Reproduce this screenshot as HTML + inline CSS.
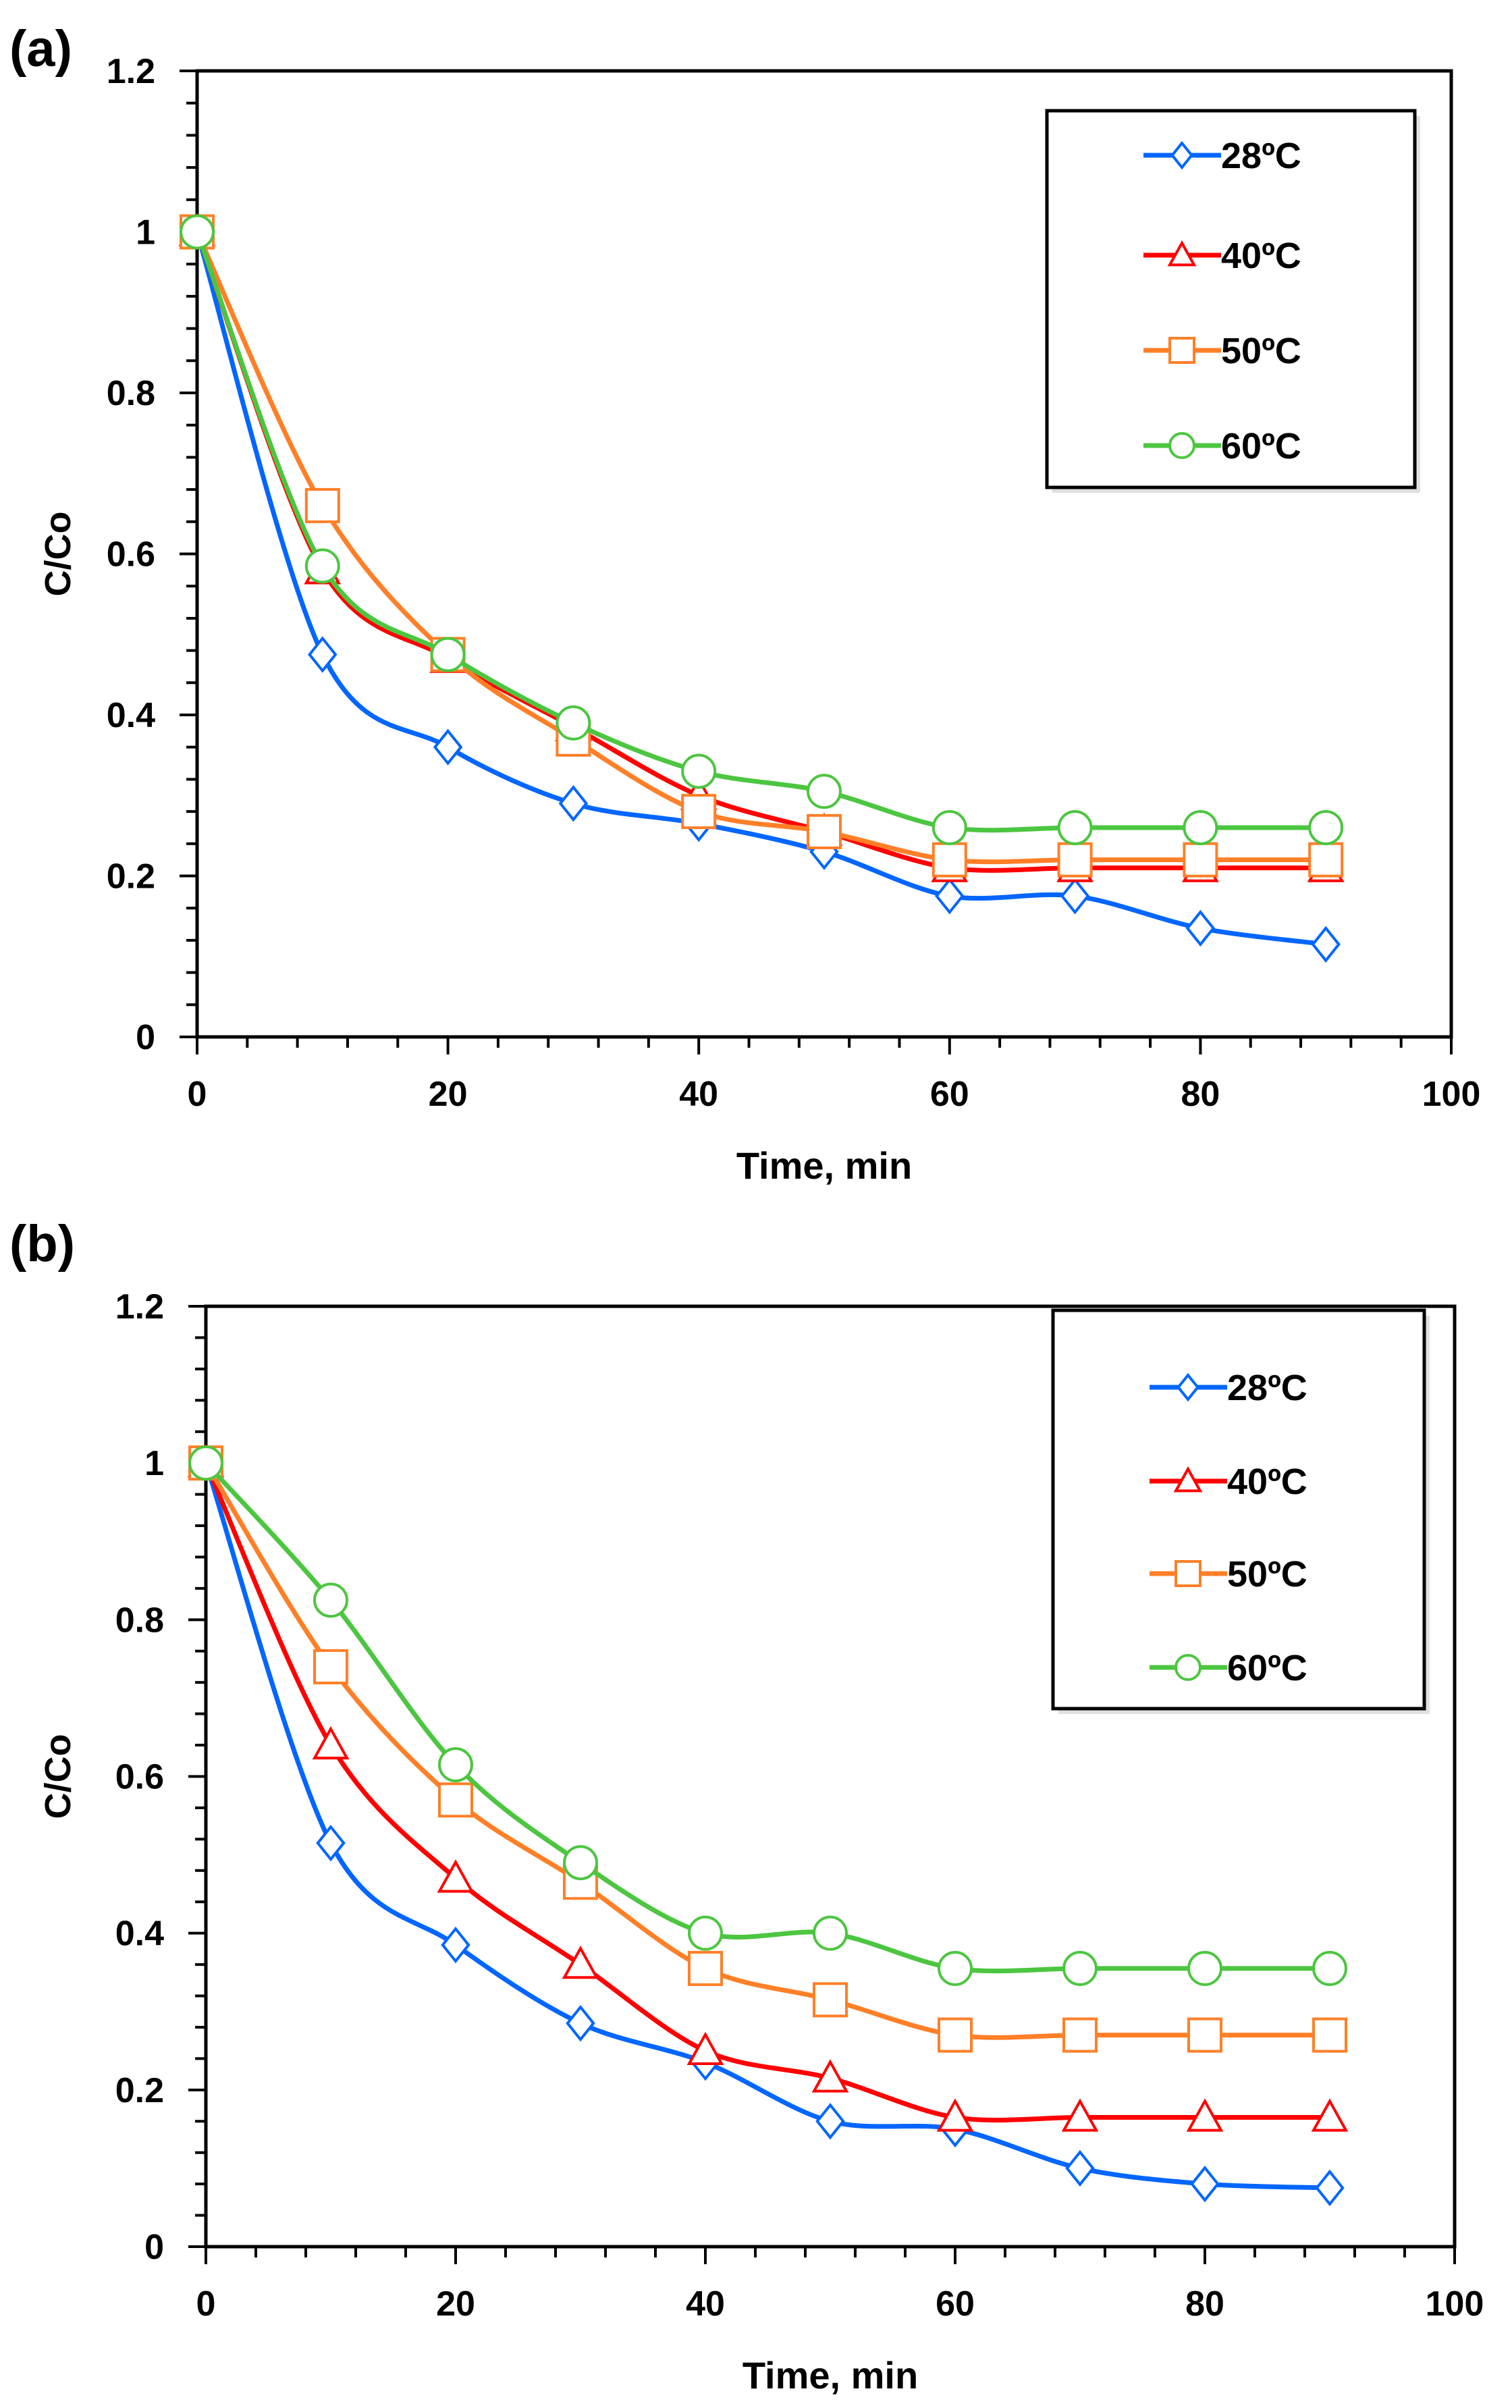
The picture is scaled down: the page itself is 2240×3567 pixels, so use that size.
<!DOCTYPE html>
<html><head><meta charset="utf-8"><style>
html,body{margin:0;padding:0;background:#fff}
svg{display:block}
text{font-family:"Liberation Sans Narrow","Liberation Sans",sans-serif;font-weight:bold;fill:#000}
</style></head><body>
<svg id="fig" width="2240" height="3567" viewBox="0 0 2240 3567" xmlns="http://www.w3.org/2000/svg"></svg>
<script>
const times = [0,10,20,30,40,50,60,70,80,90];
const seriesNames = ["28ºC","40ºC","50ºC","60ºC"];
const seriesColors = ["#0066ff","#ff0000","#ff7f27","#4cc640"];
const seriesMarkers = ["diamond","triangle","square","circle"];
const a28 = [1,0.475,0.36,0.29,0.265,0.23,0.175,0.175,0.135,0.115];
const a40 = [1,0.58,0.47,0.385,0.30,0.255,0.21,0.21,0.21,0.21];
const a50 = [1,0.66,0.475,0.37,0.28,0.255,0.22,0.22,0.22,0.22];
const a60 = [1,0.585,0.475,0.39,0.33,0.305,0.26,0.26,0.26,0.26];
const b28 = [1,0.515,0.385,0.285,0.235,0.16,0.15,0.10,0.08,0.075];
const b40 = [1,0.64,0.47,0.36,0.25,0.215,0.165,0.165,0.165,0.165];
const b50 = [1,0.74,0.57,0.465,0.355,0.315,0.27,0.27,0.27,0.27];
const b60 = [1,0.825,0.615,0.49,0.40,0.40,0.355,0.355,0.355,0.355];
const xTicks = [0,20,40,60,80,100];
const yTicks = [0,0.2,0.4,0.6,0.8,1,1.2];
const yTickLabels = ["0","0.2","0.4","0.6","0.8","1","1.2"];

const NS="http://www.w3.org/2000/svg";
const svg=document.getElementById('fig');
function mk(tag,attrs,parent){const e=document.createElementNS(NS,tag);for(const k in attrs)e.setAttribute(k,attrs[k]);(parent||svg).appendChild(e);return e;}

function marker(g,type,cx,cy,color,s){
  let e;
  if(type==="diamond") e=mk('polygon',{points:`${cx},${cy-s} ${cx+s*0.8},${cy} ${cx},${cy+s} ${cx-s*0.8},${cy}`},g);
  else if(type==="triangle") e=mk('polygon',{points:`${cx},${cy-s} ${cx+s},${cy+s*0.8} ${cx-s},${cy+s*0.8}`},g);
  else if(type==="square") e=mk('rect',{x:cx-s,y:cy-s,width:2*s,height:2*s},g);
  else e=mk('ellipse',{cx:cx,cy:cy,rx:s,ry:s},g);
  e.setAttribute('fill','#fff');e.setAttribute('stroke',color);e.setAttribute('stroke-width',4);
  return e;
}
function smoothPath(p){
  let d=`M${p[0][0]},${p[0][1]}`;
  for(let i=0;i<p.length-1;i++){
    const p0=p[Math.max(0,i-1)],p1=p[i],p2=p[i+1],p3=p[Math.min(p.length-1,i+2)];
    const t=0.16;
    const c1=[p1[0]+(p2[0]-p0[0])*t,p1[1]+(p2[1]-p0[1])*t];
    const c2=[p2[0]-(p3[0]-p1[0])*t,p2[1]-(p3[1]-p1[1])*t];
    d+=` C${c1[0]},${c1[1]} ${c2[0]},${c2[1]} ${p2[0]},${p2[1]}`;
  }
  return d;
}

function panel(cfg){
  const g=mk('g',{});
  
  
  const X=v=>cfg.x0+(cfg.x1-cfg.x0)*v/100;
  const Y=v=>cfg.y0+(cfg.y1-cfg.y0)*v/1.2;
  const frame=mk('rect',{x:cfg.x0,y:cfg.y1,width:cfg.x1-cfg.x0,height:cfg.y0-cfg.y1,fill:'none',stroke:'#000','stroke-width':5},g);
  
  
  for(let v=0;v<=100;v+=4){const mj=v%20===0;mk('line',{x1:X(v),x2:X(v),y1:cfg.y0,y2:cfg.y0+(mj?26:16),stroke:'#000','stroke-width':4},g);}
  for(let i=0;i<=30;i++){const v=i*0.04;const mj=i%5===0;mk('line',{x1:cfg.x0-(mj?26:16),x2:cfg.x0,y1:Y(v),y2:Y(v),stroke:'#000','stroke-width':4},g);}
  xTicks.forEach(v=>{const t=mk('text',{x:X(v),y:cfg.y0+102,'text-anchor':'middle','font-size':52},g);t.textContent=v;
    
    });
  yTicks.forEach((v,i)=>{const t=mk('text',{x:cfg.x0-62,y:Y(v)+18,'text-anchor':'end','font-size':52},g);t.textContent=yTickLabels[i];
    
    });
  const xt=mk('text',{x:(cfg.x0+cfg.x1)/2,y:cfg.y0+210,'text-anchor':'middle','font-size':56},g);xt.textContent="Time, min";
  
  
  const ycy=(cfg.y0+cfg.y1)/2;
  const yt=mk('text',{x:104,y:ycy,'text-anchor':'middle','font-size':54,transform:`rotate(-90 104 ${ycy})`},g);yt.textContent="C/Co";
  
  
  const pl=mk('text',{x:14,y:cfg.labelY,'font-size':76},g);pl.textContent=cfg.label;
  
  
  cfg.data.forEach((arr,si)=>{
    const sg=mk('g',{},g);
    
    
    const pts=arr.map((v,i)=>[X(times[i]),Y(v)]);
    mk('path',{d:smoothPath(pts),fill:'none',stroke:seriesColors[si],'stroke-width':7,'stroke-linejoin':'round'},sg);
    arr.forEach((v,i)=>{const m=marker(sg,seriesMarkers[si],X(times[i]),Y(v),seriesColors[si],24);
      
      });
  });
  const lg=mk('g',{},g);
  
  
  mk('rect',{x:cfg.lx+8,y:cfg.ly+8,width:cfg.lw,height:cfg.lh,fill:'#ccc',opacity:0.6},lg);
  mk('rect',{x:cfg.lx,y:cfg.ly,width:cfg.lw,height:cfg.lh,fill:'#fff',stroke:'#000','stroke-width':5},lg);
  cfg.ey.forEach((y,si)=>{
    const eg=mk('g',{},lg);
    
    
    mk('line',{x1:cfg.lx+143,x2:cfg.lx+258,y1:y,y2:y,stroke:seriesColors[si],'stroke-width':7},eg);
    marker(eg,seriesMarkers[si],cfg.lx+200,y,seriesColors[si],18);
    const t=mk('text',{x:cfg.lx+258,y:y+19,'font-size':54},eg);t.textContent=seriesNames[si];
  });
}
panel({name:'panel-a',label:'(a)',labelY:98,x0:292,x1:2150,y0:1536,y1:105,data:[a28,a40,a50,a60],
  lx:1551,ly:164,lw:545,lh:558,ey:[230,378,519,660]});
panel({name:'panel-b',label:'(b)',labelY:1868,x0:305,x1:2155,y0:3328,y1:1935,data:[b28,b40,b50,b60],
  lx:1560,ly:1941,lw:550,lh:590,ey:[2055,2194,2331,2470]});
</script>
</body></html>
